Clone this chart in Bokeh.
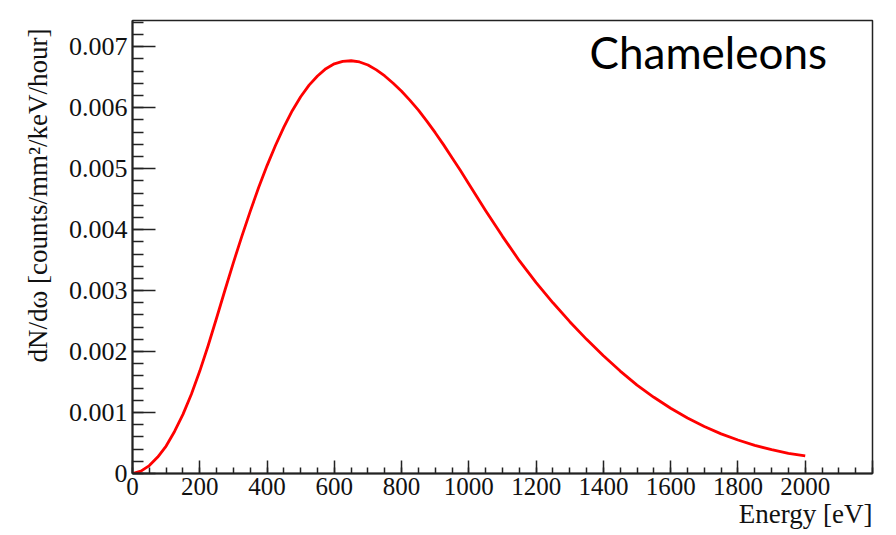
from bokeh.plotting import figure
from bokeh.models import (Range1d, SingleIntervalTicker, CustomJSTickFormatter, Label, Title)
from bokeh.embed import file_html
from bokeh.resources import INLINE

# --- data ---
energy_eV = [0, 25, 50, 75, 100, 125, 150, 175, 200, 225, 250, 275, 300, 325, 350,
             375, 400, 425, 450, 475, 500, 525, 550, 575, 600, 625, 650, 675, 700,
             725, 750, 775, 800, 825, 850, 875, 900, 925, 950, 975, 1000,
             1050, 1100, 1150, 1200, 1250, 1300, 1350, 1400, 1450, 1500, 1550, 1600,
             1650, 1700, 1750, 1800, 1850, 1900, 1950, 2000]
rate = [0.0, 0.00004, 0.00013, 0.00027, 0.00045, 0.00069, 0.00097, 0.00130, 0.00168,
        0.00210, 0.00255, 0.00301, 0.00346, 0.00389, 0.00430, 0.00469, 0.00505,
        0.00538, 0.00568, 0.00595, 0.00618, 0.00637, 0.00652, 0.00664, 0.00672,
        0.00676, 0.00677, 0.00675, 0.00670, 0.00662, 0.00652, 0.00640, 0.00627,
        0.00612, 0.00596, 0.00578, 0.00559, 0.00539, 0.00518, 0.00497, 0.00475,
        0.00431, 0.00389, 0.00349, 0.00313, 0.00280, 0.00249, 0.00220, 0.00193,
        0.00168, 0.00145, 0.00125, 0.00107, 0.00091, 0.00077, 0.00065, 0.00055,
        0.00046, 0.00039, 0.00033, 0.00029]

x_range = (0, 2200)
y_range = (0, 0.00743)
title_text = "Chameleons"
x_label = "Energy [eV]"
y_label = "dN/d\u03c9 [counts/mm\u00b2/keV/hour]"

SERIF = "Liberation Serif"
INK = "#111111"

p = figure(width=896, height=535, output_backend="svg", toolbar_location=None,
           x_range=Range1d(*x_range), y_range=Range1d(*y_range),
           min_border_left=132, min_border_right=24, min_border_top=20,
           min_border_bottom=62)
p.grid.visible = False
p.background_fill_color = "white"
p.border_fill_color = "white"
p.outline_line_color = "#222222"
p.outline_line_width = 1.5

p.line(energy_eV, rate, line_color="#ff0000", line_width=2.8, line_join="round")

# x axis
xa = p.xaxis[0]
xa.ticker = SingleIntervalTicker(interval=200, num_minor_ticks=4)
xa.formatter = CustomJSTickFormatter(code="return tick > 2100 ? '' : tick.toFixed(0);")
xa.major_tick_in = 13
xa.major_tick_out = 0
xa.minor_tick_in = 6
xa.minor_tick_out = 0
xa.axis_line_width = 2
xa.axis_line_color = "#222222"
xa.major_tick_line_color = "#222222"
xa.minor_tick_line_color = "#222222"
xa.major_tick_line_width = 1.5
xa.minor_tick_line_width = 1.5
xa.major_label_text_font = SERIF
xa.major_label_text_font_size = "25px"
xa.major_label_text_color = INK
xa.major_label_standoff = 4

# y axis
ya = p.yaxis[0]
ya.ticker = SingleIntervalTicker(interval=0.001, num_minor_ticks=5)
ya.formatter = CustomJSTickFormatter(code="return Math.abs(tick) < 1e-9 ? '0' : tick.toFixed(3);")
ya.major_tick_in = 23
ya.major_tick_out = 0
ya.minor_tick_in = 11
ya.minor_tick_out = 0
ya.axis_line_width = 2
ya.axis_line_color = "#222222"
ya.major_tick_line_color = "#222222"
ya.minor_tick_line_color = "#222222"
ya.major_tick_line_width = 1.5
ya.minor_tick_line_width = 1.5
ya.major_label_text_font = SERIF
ya.major_label_text_font_size = "26px"
ya.major_label_text_color = INK
ya.major_label_standoff = 5

# axis titles (ROOT style: aligned to the far ends of the axes)
p.add_layout(Title(text=x_label, align="right", text_font=SERIF, text_font_size="27px",
                   text_font_style="normal", text_color=INK, standoff=-1), "below")
p.add_layout(Title(text=y_label, align="right", text_font=SERIF, text_font_size="27px",
                   text_font_style="normal", text_color=INK, standoff=25, offset=8), "left")

# in-plot title
p.add_layout(Label(x=1359, y=0.00692, text=title_text, text_align="left",
                   text_baseline="alphabetic", text_font="Lato",
                   text_font_size="44px", text_color="#000000"))

open("out.html", "w").write(file_html(p, INLINE))
